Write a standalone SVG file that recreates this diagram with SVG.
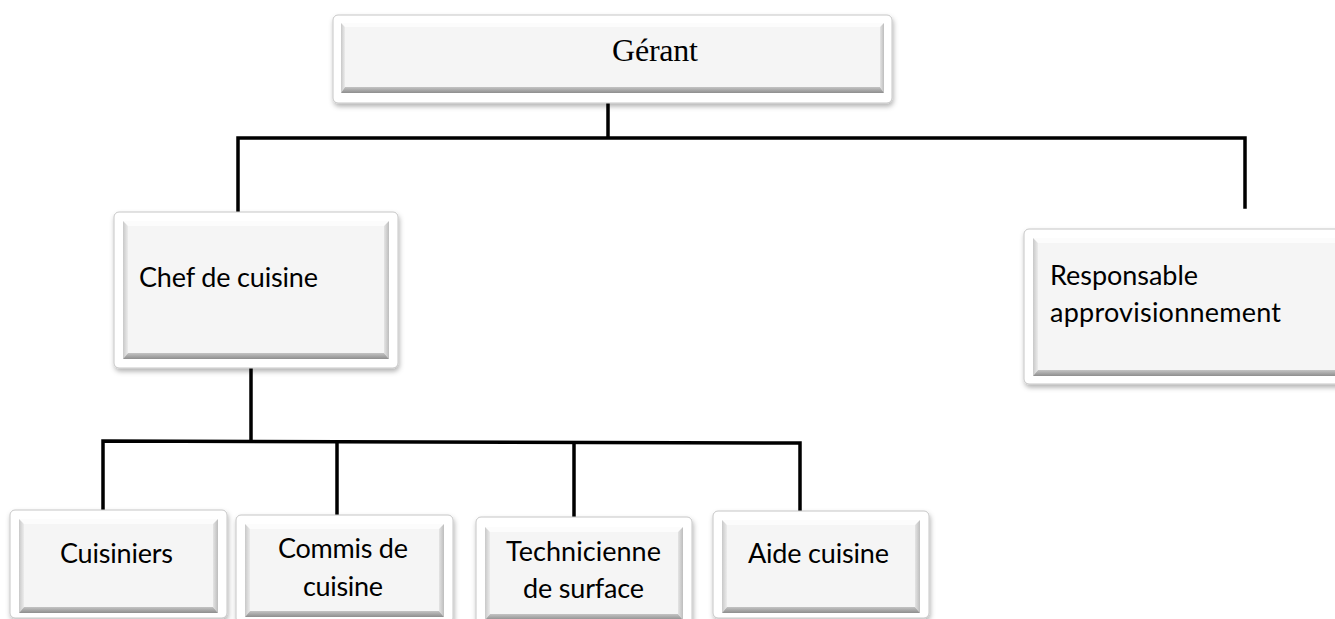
<svg xmlns="http://www.w3.org/2000/svg" width="1335" height="619" viewBox="0 0 1335 619">
<defs>
<filter id="sh" x="-10%" y="-10%" width="120%" height="130%">
<feDropShadow dx="1" dy="3" stdDeviation="2.5" flood-color="#000" flood-opacity="0.3"/>
</filter>
<linearGradient id="gb" x1="0" y1="0" x2="0" y2="1"><stop offset="0" stop-color="#c4c4c4"/><stop offset="1" stop-color="#8e8e8e"/></linearGradient>
<linearGradient id="gl" x1="0" y1="0" x2="1" y2="0"><stop offset="0" stop-color="#c8c8c8"/><stop offset="1" stop-color="#ececec"/></linearGradient>
<linearGradient id="gr" x1="0" y1="0" x2="1" y2="0"><stop offset="0" stop-color="#e4e4e4"/><stop offset="1" stop-color="#bdbdbd"/></linearGradient>
</defs>
<style>
.outer{fill:#ffffff;stroke:#c6c6c6;stroke-width:1;filter:url(#sh)}
.face{fill:#f5f5f5}
.bt{fill:#fcfcfc}
.bl{fill:url(#gl)}
.br{fill:url(#gr)}
.bb{fill:url(#gb)}
.serif{font-family:"Liberation Serif","Times New Roman",serif;font-size:32px;fill:#000}
.sans{font-family:Lato,"Liberation Sans",sans-serif;font-size:27px;fill:#000}
.conn{fill:none;stroke:#000;stroke-width:3.5;stroke-linecap:square}
</style>
<rect width="1335" height="619" fill="#ffffff"/>

<g id="connectors">
<path class="conn" d="M608 104 V137"/>
<path class="conn" d="M238 212 V138 H1245 V207"/>
<path class="conn" d="M251 369 V441"/>
<path class="conn" d="M103 510 V441 L800 443 V511"/>
<path class="conn" d="M337 443 V515"/>
<path class="conn" d="M574 443 V516"/>
</g>

<g id="gerant">
<rect class="outer" x="333" y="15" width="559" height="88" rx="5"/>
<polygon class="bt" points="341,23 884,23 880,27 345,27"/>
<polygon class="bl" points="341,23 345,27 345,87 341,93"/>
<polygon class="br" points="884,23 884,93 880,87 880,27"/>
<polygon class="bb" points="341,93 884,93 880,87 345,87"/>
<rect class="face" x="345" y="27" width="535" height="60"/>
<text class="serif" x="612" y="61" textLength="86">Gérant</text>
</g>

<g id="chef">
<rect class="outer" x="114" y="212" width="284" height="156" rx="5"/>
<polygon class="bt" points="123,221 389,221 384,226 128,226"/>
<polygon class="bl" points="123,221 128,226 128,353 123,359"/>
<polygon class="br" points="389,221 389,359 384,353 384,226"/>
<polygon class="bb" points="123,359 389,359 384,353 128,353"/>
<rect class="face" x="128" y="226" width="256" height="127"/>
<text class="sans" x="139" y="287" textLength="179">Chef de cuisine</text>
</g>

<g id="responsable">
<rect class="outer" x="1024" y="229" width="325" height="155" rx="5"/>
<polygon class="bt" points="1033,238 1340,238 1335,243 1038,243"/>
<polygon class="bl" points="1033,238 1038,243 1038,370 1033,376"/>
<polygon class="bb" points="1033,376 1340,376 1335,370 1038,370"/>
<rect class="face" x="1038" y="243" width="300" height="127"/>
<text class="sans" x="1050" y="285" textLength="148">Responsable</text>
<text class="sans" x="1050" y="322" textLength="231">approvisionnement</text>
</g>

<g id="cuisiniers">
<rect class="outer" x="10" y="510" width="217" height="108" rx="5"/>
<polygon class="bt" points="19,519 218,519 213,524 24,524"/>
<polygon class="bl" points="19,519 24,524 24,607 19,613"/>
<polygon class="br" points="218,519 218,613 213,607 213,524"/>
<polygon class="bb" points="19,613 218,613 213,607 24,607"/>
<rect class="face" x="24" y="524" width="189" height="83"/>
<text class="sans" x="60" y="563" textLength="113">Cuisiniers</text>
</g>

<g id="commis">
<rect class="outer" x="236" y="515" width="217" height="108" rx="5"/>
<polygon class="bt" points="245,524 444,524 439,529 250,529"/>
<polygon class="bl" points="245,524 250,529 250,611 245,617"/>
<polygon class="br" points="444,524 444,617 439,611 439,529"/>
<polygon class="bb" points="245,617 444,617 439,611 250,611"/>
<rect class="face" x="250" y="529" width="189" height="82"/>
<text class="sans" x="278" y="558" textLength="130">Commis de</text>
<text class="sans" x="303" y="596" textLength="80">cuisine</text>
</g>

<g id="technicienne">
<rect class="outer" x="476" y="517" width="216" height="110" rx="5"/>
<polygon class="bt" points="485,527 683,527 678,532 490,532"/>
<polygon class="bl" points="485,527 490,532 490,614 485,620"/>
<polygon class="br" points="683,527 683,620 678,614 678,532"/>
<polygon class="bb" points="485,620 683,620 678,614 490,614"/>
<rect class="face" x="490" y="532" width="188" height="82"/>
<text class="sans" x="506" y="561" textLength="155">Technicienne</text>
<text class="sans" x="523" y="598" textLength="121">de surface</text>
</g>

<g id="aide">
<rect class="outer" x="713" y="511" width="216" height="107" rx="5"/>
<polygon class="bt" points="722,520 920,520 915,525 727,525"/>
<polygon class="bl" points="722,520 727,525 727,607 722,613"/>
<polygon class="br" points="920,520 920,613 915,607 915,525"/>
<polygon class="bb" points="722,613 920,613 915,607 727,607"/>
<rect class="face" x="727" y="525" width="188" height="82"/>
<text class="sans" x="748" y="563" textLength="141">Aide cuisine</text>
</g>
</svg>
